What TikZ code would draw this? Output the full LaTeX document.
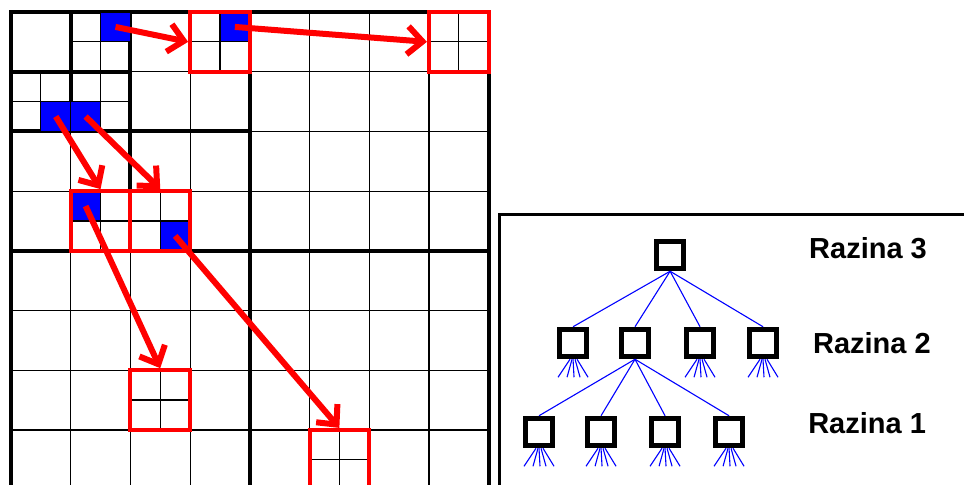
\documentclass[tikz,border=0pt]{standalone}
\usepackage{fontspec}
\setmainfont{Liberation Sans}
\usetikzlibrary{arrows.meta,calc}
\begin{document}
\begin{tikzpicture}[x=59.7pt,y=-59.7pt]
            \tikzset{
                thinline/.style={line width=1.2pt},
                thickline/.style={line width=4pt},
                bluecell/.style={draw,line width=1.2pt,fill=blue,minimum size=29.85pt,inner sep=0pt},
                redbox/.style={draw=red,line width=4pt,minimum size=59.7pt,inner sep=0pt},
                redarrow/.style={red,line width=6pt,-{Straight Barb[length=15pt,width=28pt]}},
                lvlbox/.style={draw,line width=5pt,fill=white,minimum size=27.5pt,inner sep=0pt},
                treeedge/.style={blue,line width=1.1pt},
                razina/.style={font=\bfseries\fontsize{29}{31}\selectfont,inner sep=0pt},}
            \def\bbox{(-0.1843,-0.2010) rectangle ++(16.147,8.107)}
            \useasboundingbox \bbox;
            \clip \bbox;
            % thin lines of the grid
            \foreach \i in {1,...,8} {
                \draw[thinline] (\i,0) -- (\i,8.3);
                \draw[thinline] (0,\i) -- (8,\i);}
            \draw[thinline] (1.5,0) -- (1.5,2) (1,0.5) -- (2,0.5) (0.5,1) -- (0.5,2) (0,1.5) -- (2,1.5);
            % thick lines of the quadtree
            \draw[thickline] (0,8.3) -- (0,0) -- (8,0) -- (8,8.3) (4,0) -- (4,8.3) (0,4) -- (8,4)
                (2,0) -- (2,4) (0,2) -- (4,2) (1,0) -- (1,2) (0,1) -- (2,1);
            \node[bluecell] (c1) at (1.75,0.25) {};
            \node[bluecell] (c2) at (3.75,0.25) {};
            \node[bluecell] (c3) at (0.75,1.75) {};
            \node[bluecell] (c4) at (1.25,1.75) {};
            \node[bluecell] (c5) at (1.25,3.25) {};
            \node[bluecell] (c6) at (2.75,3.75) {};
            \foreach \n/\x/\y in {b1/3.5/0.5,b2/7.5/0.5,b3/1.5/3.5,b4/2.5/3.5,b5/2.5/6.5,b6/5.5/7.5} {
                \draw[thinline] (\x,\y-0.5) -- (\x,\y+0.5) (\x-0.5,\y) -- (\x+0.5,\y);
                \node[redbox] (\n) at (\x,\y) {};}
            \draw[redarrow] (c1.center) -- (b1.west);
            \draw[redarrow] (c2.center) -- (b2.west);
            \draw[redarrow] (c3.center) -- (b3.north);
            \draw[redarrow] (c4.center) -- (b4.north);
            \draw[redarrow] (c5.center) -- (b5.north);
            \draw[redarrow] (c6.center) -- (b6.north);
            % the tree of levels
            \draw[line width=3pt] (8.19,3.40) rectangle (16.5,8.5);
            \node[lvlbox] (r3) at (11.04,4.07) {};
            \foreach \n/\x in {r2a/9.414,r2b/10.452,r2c/11.541,r2d/12.596} {
                \node[lvlbox] (\n) at (\x,5.544) {};
                \draw[treeedge] (r3.south) -- (\n.north);}
            \foreach \n/\x in {r1a/8.844,r1b/9.883,r1c/10.955,r1d/12.027} {
                \node[lvlbox] (\n) at (\x,7.035) {};
                \draw[treeedge] (r2b.south) -- (\n.north);}
            \foreach \n in {r2a,r2c,r2d,r1a,r1b,r1c,r1d}
                \foreach \a/\b in {-3/-12,-1/-5,0/1,2/5,4/11}
                    \draw[treeedge] ($(\n.south)+(\a pt,0pt)$) -- ++(\b pt,-18pt);
            \node[razina] (t3) at (14.355,3.953) {Razina 3};
            \node[razina] (t2) at (14.42,5.544) {Razina 2};
            \node[razina] (t1) at (14.34,6.884) {Razina 1};
        \end{tikzpicture}
\end{document}
